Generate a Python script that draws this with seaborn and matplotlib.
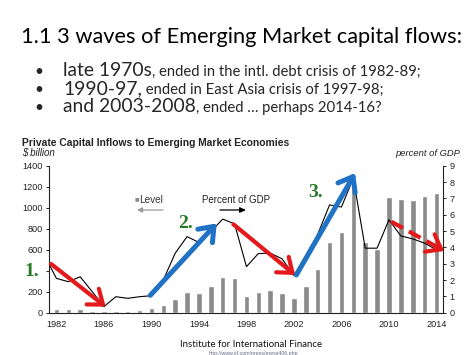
import matplotlib
matplotlib.use("Agg")
import matplotlib.pyplot as plt
import seaborn as sns
import pandas as pd

# ---------------- data ----------------
years = list(range(1982, 2015))
level_bn = [38, 32, 38, 19, 13, 19, 19, 22, 46, 78, 132, 195, 185, 250, 340, 326,
            158, 197, 216, 190, 139, 258, 419, 670, 771, 1250, 676, 610,
            1105, 1080, 1073, 1111, 1143]
pct_years = list(range(1981, 2015))
pct_gdp = [3.5, 2.1, 1.9, 2.2, 1.3, 0.37, 0.98, 0.88, 0.98, 1.04, 2.0, 3.64, 4.66,
           4.3, 4.97, 5.73, 5.44, 2.82, 3.62, 3.65, 3.3, 2.28, 3.5, 4.8, 6.6,
           6.47, 8.24, 3.95, 3.95, 5.69, 4.7, 4.52, 4.26, 3.85]
x_ticks = [1982, 1986, 1990, 1994, 1998, 2002, 2006, 2010, 2014]
left_ticks = [0, 200, 400, 600, 800, 1000, 1200, 1400]
left_tick_labels = ["0", "200", "", "600", "800", "1000", "1200", "1400"]  # 400 hidden by "1."
right_ticks = [0, 1, 2, 3, 4, 5, 6, 7, 8, 9]

# annotation arrows (year, $bn) start -> end
arrow_red1 = [(1981.55, 464), (1986.15, 57)]
arrow_blue1 = [(1989.9, 165), (1995.5, 851)]
arrow_red2 = [(1996.9, 842), (2002.1, 359)]
arrow_blue2 = [(2002.2, 359), (2007.15, 1330)]
arrow_red3 = [(2010.2, 867), (2014.65, 588)]

title = "1.1 3 waves of Emerging Market capital flows:"
bullets = [("late 1970s", ", ended in the intl. debt crisis of 1982-89;"),
           ("1990-97,", " ended in East Asia crisis of 1997-98;"),
           ("and 2003-2008", ", ended \u2026 perhaps 2014-16?")]
chart_title = "Private Capital Inflows to Emerging Market Economies"
source = "Institute for International Finance"
url = "http://www.iif.com/press/press406.php"

# ---------------- style ----------------
sns.set_style("white")
plt.rcParams['font.family'] = ['Liberation Sans', 'DejaVu Sans']
W, H = 474, 355
fig = plt.figure(figsize=(W / 100, H / 100), dpi=100)
fig.patch.set_facecolor("white")

def fx(px):
    return px / W

def fy(py):
    return 1 - py / H

# ---------------- chart ----------------
ax = fig.add_axes([fx(49.3), fy(312.7), (443 - 49.3) / W, (312.7 - 165.7) / H])
df_bar = pd.DataFrame({"year": years, "level": level_bn})
df_line = pd.DataFrame({"year": pct_years, "pct": pct_gdp})
sns.barplot(data=df_bar, x="year", y="level", native_scale=True, color="#8a8a8a",
            saturation=1, width=0.47, ax=ax, errorbar=None)
ax.set_xlim(1981.4, 2014.55)
ax.set_ylim(0, 1400)
ax.set_xticks(x_ticks)
ax.set_xticklabels([str(v) for v in x_ticks])
ax.set_yticks(left_ticks)
ax.set_yticklabels(left_tick_labels)
ax.set_xlabel("")
ax.set_ylabel("")

ax2 = ax.twinx()
sns.lineplot(data=df_line, x="year", y="pct", color="black", lw=0.8, ax=ax2)
ax2.set_ylim(0, 9)
ax2.set_xlim(1981.4, 2014.55)
ax2.set_yticks(right_ticks)
ax2.set_ylabel("")
ax2.set_xlabel("")

for a in (ax, ax2):
    for s in a.spines.values():
        s.set_color("#222222")
        s.set_linewidth(0.8)
    a.spines["top"].set_visible(False)
ax.spines["right"].set_visible(False)
ax2.spines["left"].set_visible(False)
ax2.spines["bottom"].set_visible(False)
ax.tick_params(axis="both", labelsize=6.6, colors="#222222", length=2.2, width=0.7,
               direction="out", pad=2.5)
ax.tick_params(axis="x", pad=3)
ax2.tick_params(axis="y", labelsize=6.6, colors="#222222", length=2.2, width=0.7,
                direction="out", pad=2.5)

# arrows (drawn above the line)
def arrow(pts, color, lw, dashed=False):
    (x0, y0), (x1, y1) = pts
    style = "->,head_length=0.55,head_width=0.42"
    kw = dict(xycoords=ax.transData, textcoords=ax.transData, annotation_clip=False)
    props = dict(arrowstyle=style, color=color, lw=lw, shrinkA=0, shrinkB=0,
                 mutation_scale=17)
    if dashed:
        ax2.plot([x0, x1 - 0.5], [y0, y1 + (y0 - y1) * 0.5 / (x1 - x0)],
                 transform=ax.transData, color=color, lw=lw,
                 dashes=(3.2, 1.6), solid_capstyle="butt", clip_on=False)
        xs = x1 - 0.8
        ys = y1 + (y0 - y1) * 0.8 / (x1 - x0)
        ax2.annotate("", xy=(x1, y1), xytext=(xs, ys), arrowprops=props, **kw)
    else:
        ax2.annotate("", xy=(x1, y1), xytext=(x0, y0), arrowprops=props, **kw)

RED = "#e4191c"
BLUE = "#1f72c4"
arrow(arrow_red1, RED, 3.0)
arrow(arrow_blue1, BLUE, 3.6)
arrow(arrow_red2, RED, 3.0)
arrow(arrow_blue2, BLUE, 3.6)
arrow(arrow_red3, RED, 3.0, dashed=True)

# ---------------- texts ----------------
fig.canvas.draw()
r = fig.canvas.get_renderer()

def fit(t, target):
    for _ in range(3):
        w = t.get_window_extent(r).width
        t.set_fontsize(t.get_fontsize() * target / w)

GREEN = "#267a26"
for lab, cx, cy in [("1.", 31.3, 271.7), ("2.", 185.3, 223.5), ("3.", 315.3, 192.3)]:
    fig.text(fx(cx), fy(cy), lab, ha="center", va="center", color=GREEN,
             fontsize=14, fontweight="bold", family=["Liberation Serif", "DejaVu Serif"])

# legend
fig.text(fx(135), fy(200), "\u25a0", ha="left", va="center", fontsize=5.5,
         color="#8a8a8a")
t = fig.text(fx(139.5), fy(200), "Level", ha="left", va="center",
             fontsize=6.5, color="#333333")
fit(t, 24)
t = fig.text(fx(201.7), fy(200), "Percent of GDP", ha="left", va="center",
             fontsize=6.5, color="#222222")
fit(t, 68)
fig.add_artist(matplotlib.patches.FancyArrowPatch(
    (fx(163), fy(210)), (fx(137), fy(210)), transform=fig.transFigure,
    arrowstyle="-|>,head_length=3,head_width=1.5", color="#9a9a9a", lw=0.9,
    shrinkA=0, shrinkB=0))
fig.add_artist(matplotlib.patches.FancyArrowPatch(
    (fx(220), fy(210)), (fx(246), fy(210)), transform=fig.transFigure,
    arrowstyle="-|>,head_length=3.5,head_width=1.6", color="black", lw=0.9,
    shrinkA=0, shrinkB=0))

# chart headers
t = fig.text(fx(21.7), fy(142.7), chart_title, ha="left", va="center",
             fontweight="bold", fontsize=6.5, color="#222222")
fit(t, 268)
t = fig.text(fx(21.7), fy(152.7), "$ billion", ha="left", va="center",
             style="italic", fontsize=6.2, color="#222222")
fit(t, 33)
t = fig.text(fx(460), fy(153), "percent of GDP", ha="right", va="center",
             style="italic", fontsize=6.2, color="#222222")
fit(t, 64)

# slide title and bullets
SLIDE_FONT = ["Lato", "DejaVu Sans"]
t = fig.text(fx(20.7), fy(43), title, ha="left", va="baseline", fontsize=20,
             family=SLIDE_FONT, color="black")
fit(t, 439)

big_ref = fig.text(0, 0, bullets[2][0], fontsize=15, family=SLIDE_FONT)
fit(big_ref, 132)
big_size = big_ref.get_fontsize()
big_ref.remove()
small_ref = fig.text(0, 0, bullets[0][1], fontsize=10, family=SLIDE_FONT)
fit(small_ref, 268)
small_size = small_ref.get_fontsize()
small_ref.remove()

for (big, small), base in zip(bullets, [76, 94, 111.7]):
    fig.text(fx(39), fy(base), "\u2022", ha="center", va="baseline",
             fontsize=big_size * 0.8, family=SLIDE_FONT)
    tb = fig.text(fx(63), fy(base), big, ha="left", va="baseline",
                  fontsize=big_size, family=SLIDE_FONT)
    x1 = tb.get_window_extent(r).x1
    fig.text(x1 / W, fy(base), small, ha="left", va="baseline",
             fontsize=small_size, family=SLIDE_FONT)

# source
t = fig.text(fx(251), fy(344.3), source, ha="center", va="center", fontsize=9,
             family=SLIDE_FONT, color="#111111")
fit(t, 142)
t = fig.text(fx(253), fy(353.3), url, ha="center", va="center", fontsize=3.5,
             color="#666688")
fit(t, 90)

fig.savefig("out.png", dpi=100)
